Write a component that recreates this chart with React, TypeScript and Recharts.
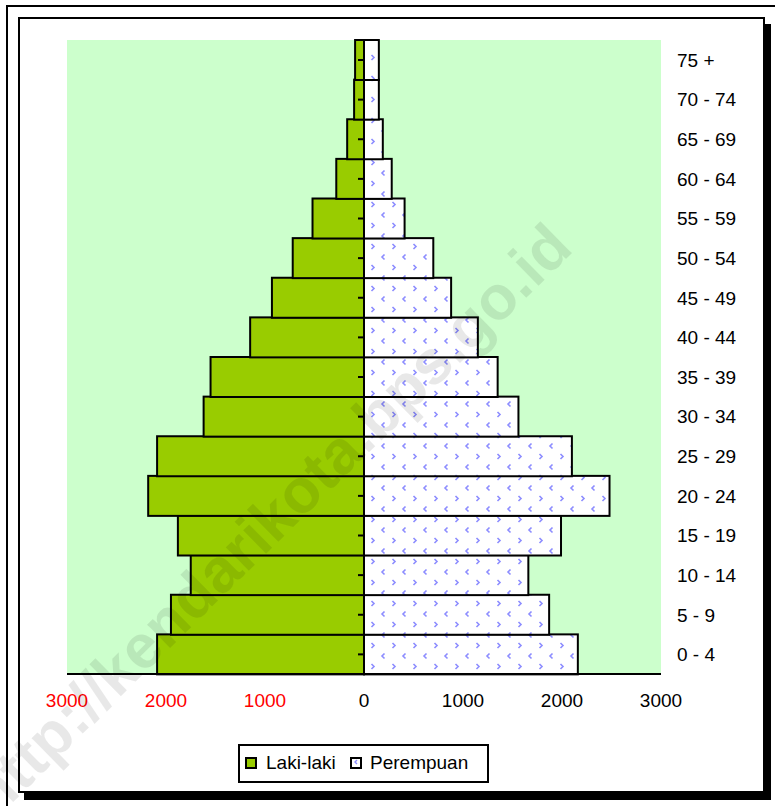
import React from 'react';
import { BarChart, Bar, XAxis, YAxis, CartesianGrid, ReferenceLine } from 'recharts';

// age groups, bottom to top
const ageGroups = ['0 - 4', '5 - 9', '10 - 14', '15 - 19', '20 - 24', '25 - 29', '30 - 34', '35 - 39',
    '40 - 44', '45 - 49', '50 - 54', '55 - 59', '60 - 64', '65 - 69', '70 - 74', '75 +'];
const lakiLaki = [2090, 1950, 1750, 1880, 2180, 2090, 1620, 1550, 1150, 930, 720, 520, 280, 170, 100, 90];
const perempuan = [2160, 1870, 1660, 1990, 2480, 2100, 1560, 1350, 1150, 880, 700, 410, 280, 190, 150, 150];
const xTicks = [-3000, -2000, -1000, 0, 1000, 2000, 3000];

const FONT = '"Liberation Sans", Arial, sans-serif';
const CHEV = '#8C8CFF';

const data = ageGroups.map((g, i) => ({
    group: g,
    laki: -lakiLaki[i],
    perempuan: perempuan[i],
}));

const LakiShape = (props: any) => {
    const { x, y, width, height } = props;
    const l = Math.min(x, x + width);
    const w = Math.abs(width);
    const cy = y + height / 2;
    return (
        <g>
            <rect x={l} y={y} width={w} height={height} fill="#99CC00" stroke="#000" strokeWidth={2} />
            <line x1={l + w - 6} x2={l + w} y1={cy} y2={cy} stroke="#000" strokeWidth={2} />
        </g>
    );
};

const PerempuanShape = (props: any) => {
    const { x, y, width, height } = props;
    const l = Math.min(x, x + width);
    return <rect x={l} y={y} width={Math.abs(width)} height={height} fill="url(#chev)" stroke="#000" strokeWidth={2} />;
};

const XTick = (props: any) => {
    const { x, y, payload } = props;
    return (
        <text x={x} y={y + 33} textAnchor="middle" fontSize={19} fontFamily={FONT}
            fill={payload.value < 0 ? '#FF0000' : '#000'}>
            {Math.abs(payload.value)}
        </text>
    );
};

const YTick = (props: any) => {
    const { x, y, payload } = props;
    return (
        <text x={x + 16} y={y + 7} textAnchor="start" fontSize={19} fontFamily={FONT} fill="#000">
            {payload.value}
        </text>
    );
};

const App = () => {
    return (
        <div style={{ position: 'absolute', left: 0, top: 0, width: 775, height: 806, overflow: 'hidden', background: '#fff', fontFamily: FONT }}>
            <div style={{ position: 'absolute', left: 6, top: 5, width: 900, height: 900, border: '2px solid #000' }} />
            <div style={{ position: 'absolute', left: 18, top: 17, width: 747, height: 776, boxSizing: 'border-box', border: '2px solid #000', boxShadow: '6px 7px 0 #000', background: '#fff' }} />
            <div style={{ position: 'absolute', left: 0, top: 0 }}>
                <BarChart width={775} height={806} data={data} layout="vertical" stackOffset="sign"
                    barCategoryGap={0} margin={{ top: 40, left: 67, right: 14, bottom: 102 }}>
                    <defs>
                        <pattern id="chev" width={21} height={21} patternUnits="userSpaceOnUse">
                            <rect width={21} height={21} fill="#fff" />
                            <polyline points="6.5,2.5 4,5 6.5,7.5" fill="none" stroke={CHEV} strokeWidth={1.6} />
                            <polyline points="14.5,13 17,15.5 14.5,18" fill="none" stroke={CHEV} strokeWidth={1.6} />
                        </pattern>
                    </defs>
                    <CartesianGrid fill="#CCFFCC" stroke="none" />
                    <XAxis type="number" domain={[-3000, 3000]} ticks={xTicks} height={30}
                        axisLine={{ stroke: '#000', strokeWidth: 2 }} tickLine={false}
                        tickSize={0} tickMargin={0} tick={<XTick />} />
                    <YAxis type="category" dataKey="group" orientation="right" reversed width={100}
                        axisLine={false} tickLine={false} tickSize={0} tickMargin={0} tick={<YTick />} interval={0} />
                    <Bar dataKey="laki" stackId="a" shape={<LakiShape />} isAnimationActive={false} />
                    <Bar dataKey="perempuan" stackId="a" shape={<PerempuanShape />} isAnimationActive={false} />
                    <ReferenceLine x={0} stroke="#000" strokeWidth={2} />
                </BarChart>
            </div>
            {/* legend */}
            <div style={{ position: 'absolute', left: 238, top: 744, width: 251, height: 39, boxSizing: 'border-box', border: '2px solid #000', background: '#fff' }}>
                <div style={{ position: 'absolute', left: 5, top: 11, width: 12, height: 12, boxSizing: 'border-box', border: '2px solid #000', background: '#99CC00' }} />
                <div style={{ position: 'absolute', left: 26, top: 6, fontSize: 19, lineHeight: '22px' }}>Laki-laki</div>
                <svg style={{ position: 'absolute', left: 110, top: 11 }} width={12} height={12}>
                    <rect x={1} y={1} width={10} height={10} fill="#fff" stroke="#000" strokeWidth={2} />
                    <polyline points="7,3 5,5 7,7" fill="none" stroke={CHEV} strokeWidth={1.4} />
                </svg>
                <div style={{ position: 'absolute', left: 130, top: 6, fontSize: 19, lineHeight: '22px' }}>Perempuan</div>
            </div>
            {/* watermark */}
            <svg style={{ position: 'absolute', left: 0, top: 0, pointerEvents: 'none' }} width={775} height={806}>
                <text x={285} y={535} textAnchor="middle" fontSize={62} fontWeight="bold" fontFamily={FONT}
                    fill="#000" fillOpacity={0.09} transform="rotate(-44.5 285 535)">
                    http://kendarikota.bps.go.id
                </text>
            </svg>
        </div>
    );
};

export default App;
